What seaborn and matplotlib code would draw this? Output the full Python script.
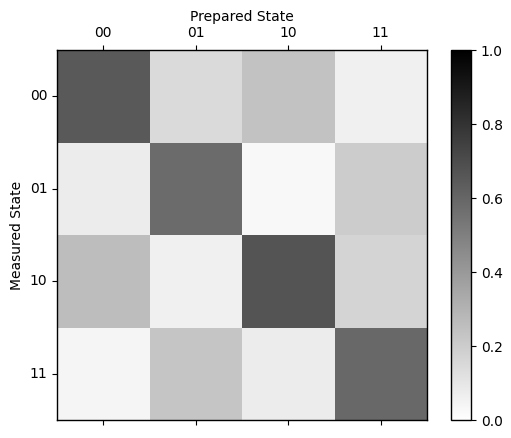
import matplotlib
matplotlib.use("Agg")
import matplotlib.pyplot as plt
import seaborn as sns
import pandas as pd
import numpy as np

states = ['00', '01', '10', '11']

# columns = prepared state, rows = measured state
row_00 = [0.65, 0.145, 0.24, 0.06]
row_01 = [0.075, 0.58, 0.03, 0.20]
row_10 = [0.26, 0.06, 0.67, 0.17]
row_11 = [0.04, 0.23, 0.075, 0.59]

mat = pd.DataFrame([row_00, row_01, row_10, row_11], index=states, columns=states)

W, H = 511, 438
fig = plt.figure(figsize=(W / 100, H / 100), dpi=100)
ax = fig.add_axes([57 / W, (H - 420) / H, 370 / W, 370 / H])
cax = fig.add_axes([451 / W, (H - 420) / H, 20 / W, 370 / H])

sns.heatmap(mat, ax=ax, cbar_ax=cax, cmap='binary', vmin=0, vmax=1,
            square=False, cbar_kws={'ticks': [0, 0.2, 0.4, 0.6, 0.8, 1.0]})

for s in ax.spines.values():
    s.set_visible(True)
    s.set_linewidth(1)
    s.set_color('black')
cbar = ax.collections[0].colorbar
cbar.outline.set_linewidth(1)
cbar.outline.set_edgecolor('black')
cbar.set_ticklabels(['0.0', '0.2', '0.4', '0.6', '0.8', '1.0'])

ax.tick_params(top=True, bottom=True, labeltop=True, labelbottom=False,
               left=True, length=3.5, width=0.8)
ax.xaxis.set_label_position('top')
ax.set_xlabel('Prepared State')
ax.set_ylabel('Measured State')
plt.setp(ax.get_yticklabels(), rotation=0)
plt.setp(ax.get_xticklabels(), rotation=0)
cax.tick_params(length=3.5, width=0.8)

fig.savefig('out.png', dpi=100)
